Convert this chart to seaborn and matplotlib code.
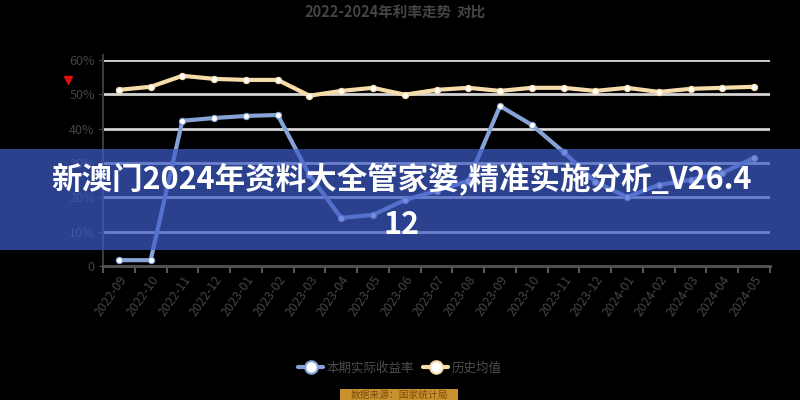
import numpy as np
import pandas as pd
import seaborn as sns
import matplotlib.pyplot as plt
from matplotlib.patches import Rectangle
from matplotlib.lines import Line2D

# data
months = ['2022-09', '2022-10', '2022-11', '2022-12', '2023-01', '2023-02', '2023-03',
          '2023-04', '2023-05', '2023-06', '2023-07', '2023-08', '2023-09', '2023-10',
          '2023-11', '2023-12', '2024-01', '2024-02', '2024-03', '2024-04', '2024-05']
actual = [1.7, 1.7, 42.3, 43.1, 43.7, 44.0, 26.5, 14.0, 14.9, 19.2, 21.9,
          24.8, 46.6, 41.1, 33.2, 24.5, 20.1, 23.6, 25.1, 27.1, 31.5]
average = [51.3, 52.2, 55.4, 54.5, 54.2, 54.2, 49.6, 51.0, 51.9, 49.9, 51.3,
           51.9, 51.0, 51.9, 51.9, 51.0, 51.9, 50.7, 51.6, 51.9, 52.2]
yticks = [0, 10, 20, 30, 40, 50, 60]
ytick_labels = ['0', '10%', '20%', '30%', '40%', '50%', '60%']
series_names = ['本期实际收益率', '历史均值']
title = '2022-2024年利率走势'
title_tag = '对比'
banner = '新澳门2024年资料大全管家婆,精准实施分析_V26.4\n12'
source = '数据来源：国家统计局'

blue = '#86a3d8'
cream = '#f6dcaa'

sns.set_style('dark')
plt.rcParams['font.family'] = ['Noto Sans CJK SC', 'DejaVu Sans']

fig = plt.figure(figsize=(8, 4), dpi=100, facecolor='black')
ax = fig.add_axes([103 / 800, 1 - 266 / 400, 667 / 800, 206 / 400])
ax.set_facecolor('black')

df = pd.DataFrame({'month': months, 'actual': actual, 'average': average})
x = np.arange(len(months))

sns.lineplot(x=x, y=df['actual'], ax=ax, color=blue, linewidth=3,
             marker='o', markersize=4.5, markerfacecolor='white',
             markeredgecolor=blue, markeredgewidth=0.8, zorder=3)
sns.lineplot(x=x, y=df['average'], ax=ax, color=cream, linewidth=3,
             marker='o', markersize=4.5, markerfacecolor='white',
             markeredgecolor=cream, markeredgewidth=0.8, zorder=3)

ax.set_xlim(-0.5, len(months) - 0.5)
ax.set_ylim(0, 60)
ax.set_xlabel('')
ax.set_ylabel('')

# category axis: ticks on the band edges, labels at the centres
ax.set_xticks(np.arange(len(months) + 1) - 0.5)
ax.set_xticklabels([])
ax.set_xticks(x, minor=True)
ax.set_xticklabels(months, minor=True, rotation=55, ha='right', va='top',
                   rotation_mode='anchor', fontsize=9, color='#454545')
ax.tick_params(axis='x', which='major', length=5, width=1.5, color='#555555',
               direction='out', bottom=True)
ax.tick_params(axis='x', which='minor', length=0, pad=5, bottom=True)

ax.set_yticks(yticks)
ax.set_yticklabels(ytick_labels, fontsize=9, color='#454545')
ax.tick_params(axis='y', length=3, color='#555555', left=True, pad=3)

ax.grid(False)
for v in yticks[1:]:
    ax.axhline(v, color='#d4d4d4', linewidth=2, zorder=1)

for s in ['top', 'right']:
    ax.spines[s].set_visible(False)
ax.spines['bottom'].set_color('#555555')
ax.spines['bottom'].set_linewidth(2)
ax.spines['left'].set_color('#3a3a3a')
ax.spines['left'].set_linewidth(1.5)
ax.spines['left'].set_bounds(0, 61.5)

# title
fig.text(378 / 800, 1 - 12 / 400, title, ha='center', va='center',
         fontsize=10.5, fontweight='bold', color='#444444')
fig.text(471 / 800, 1 - 12 / 400, title_tag, ha='center', va='center',
         fontsize=10.5, fontweight='bold', color='#444444')

# small red mark at the left
fig.add_artist(Line2D([68 / 800], [1 - 80 / 400], marker='v', markersize=6,
                      color='#e01010', transform=fig.transFigure))

# legend
handles = [Line2D([0], [0], color=c, linewidth=3, marker='o', markersize=9,
                  markerfacecolor='white', markeredgecolor=c, markeredgewidth=1.5)
           for c in [blue, cream]]
fig.legend(handles, series_names, loc='center', bbox_to_anchor=(0.5, 1 - 368 / 400),
           ncol=2, frameon=False, fontsize=9, labelcolor='#4d4d4d',
           handlelength=2.0, columnspacing=0.7, handletextpad=0.3)

# source box at the bottom edge
fig.add_artist(Rectangle((340 / 800, 0), 118 / 800, 11 / 400, transform=fig.transFigure,
                         facecolor='#c8922f', edgecolor='none', zorder=4))
fig.text(399 / 800, 5 / 400, source, ha='center', va='center', fontsize=7,
         color='#7a4e0c', zorder=5)

# overlay banner
fig.add_artist(Rectangle((0, 1 - 250 / 400), 1, 101 / 400, transform=fig.transFigure,
                         facecolor='#3f5dcb', alpha=0.7, edgecolor='none', zorder=6))
fig.text(401 / 800, 1 - 202 / 400, banner, ha='center', va='center',
         multialignment='center', fontsize=22, fontweight='bold', color='white',
         linespacing=1.5, zorder=7)

fig.savefig('out.png', dpi=100, facecolor='black')
